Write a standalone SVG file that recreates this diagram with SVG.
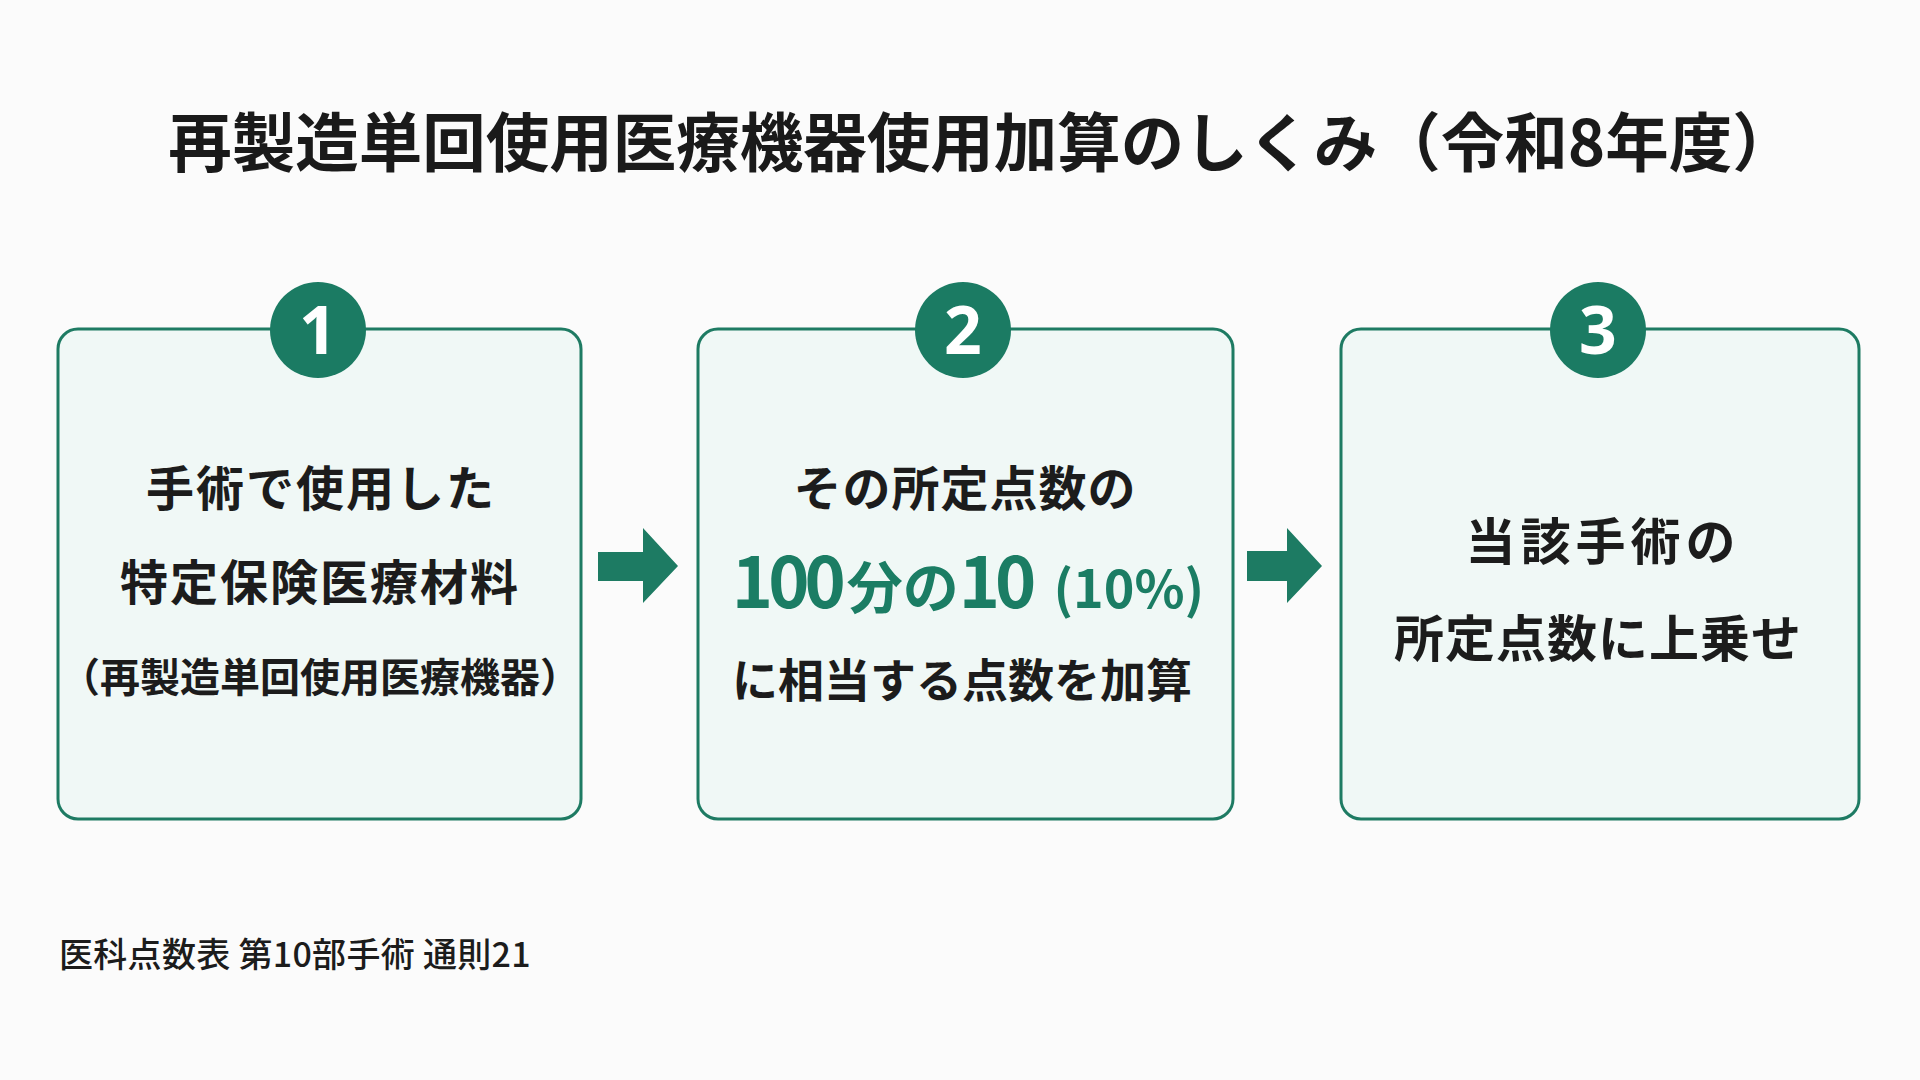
<svg xmlns="http://www.w3.org/2000/svg" width="1920" height="1080" viewBox="0 0 1920 1080">
  <style>
    .jp { font-family: "Noto Sans CJK JP", "Noto Sans", sans-serif; }
    .title { font-size: 63.5px; font-weight: 700; fill: #1a1a1a; }
    .box { fill: #f0f8f6; stroke: #1e7b63; stroke-width: 3; }
    .badge { fill: #1b7b63; }
    .num { font-family: "Noto Sans", "Inter", sans-serif; font-size: 66px; font-weight: 700; fill: #ffffff; }
    .body { font-weight: 700; fill: #1c1c1c; }
    .hl { font-weight: 700; fill: #1b7d64; }
    .arrow { fill: #1d7b63; }
    .note { font-size: 34px; font-weight: 500; fill: #1c1c1c; }
  </style>
  <rect width="1920" height="1080" fill="#fbfbfb"/>

  <text id="title" class="jp title" x="982" y="166" text-anchor="middle">再製造単回使用医療機器使用加算のしくみ（令和8年度）</text>

  <g id="connectors">
    <polygon class="arrow" points="598,552 643,552 643,528 678,566 643,603 643,581 598,581"/>
    <polygon class="arrow" points="1247,551 1287,551 1287,528 1322,566 1287,603 1287,581 1247,581"/>
  </g>

  <g id="step1">
    <rect class="box" x="58" y="329" width="523" height="490" rx="20"/>
    <circle class="badge" cx="318" cy="330" r="48"/>
    <text class="num" x="318" y="354" text-anchor="middle">1</text>
    <text class="jp body" x="321" y="506" font-size="48" letter-spacing="2" text-anchor="middle">手術で使用した</text>
    <text class="jp body" x="320" y="600" font-size="48" letter-spacing="2" text-anchor="middle">特定保険医療材料</text>
    <text class="jp body" x="320" y="692" font-size="40" letter-spacing="0" text-anchor="middle">（再製造単回使用医療機器）</text>
  </g>

  <g id="step2">
    <rect class="box" x="698" y="329" width="535" height="490" rx="20"/>
    <circle class="badge" cx="963" cy="330" r="48"/>
    <text class="num" x="963" y="354" text-anchor="middle">2</text>
    <text class="jp body" x="965" y="506" font-size="48" letter-spacing="1" text-anchor="middle">その所定点数の</text>
    <text class="jp hl" x="968" y="608" text-anchor="middle"><tspan font-size="70" letter-spacing="-5">100</tspan><tspan font-size="56" dx="6">分の</tspan><tspan font-size="70" letter-spacing="-5">10</tspan><tspan font-size="52" dx="22">(10%)</tspan></text>
    <text class="jp body" x="962" y="697" font-size="46" text-anchor="middle">に相当する点数を加算</text>
  </g>

  <g id="step3">
    <rect class="box" x="1341" y="329" width="518" height="490" rx="20"/>
    <circle class="badge" cx="1598" cy="330" r="48"/>
    <text class="num" x="1598" y="354" text-anchor="middle">3</text>
    <text class="jp body" x="1603" y="560" font-size="50" letter-spacing="5" text-anchor="middle">当該手術の</text>
    <text class="jp body" x="1598" y="657" font-size="50" letter-spacing="1" text-anchor="middle">所定点数に上乗せ</text>
  </g>

  <text id="footnote" class="jp note" x="59" y="967" letter-spacing="0.3">医科点数表 第10部手術 通則21</text>
</svg>
